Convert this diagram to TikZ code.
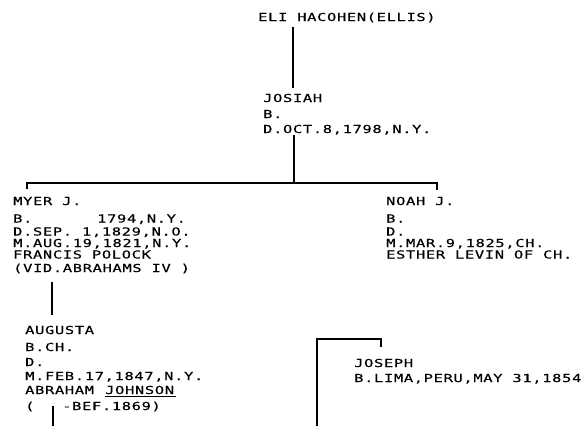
\documentclass[tikz,border=0pt]{standalone}
\usepackage{fontspec}
\newfontfamily\typ[FakeStretch=1.4,LetterSpace=6,FakeBold=0.3]{DejaVu Sans Mono}
\begin{document}
\begin{tikzpicture}[x=1pt,y=-1pt,
  txt/.style={anchor=base west,inner sep=0pt,font=\typ\fontsize{11}{12}\selectfont},
  ln/.style={line width=1.1pt,line cap=butt}]
\useasboundingbox[fill=white] (0,0) rectangle (583,426);
% Eli
\node[txt] (eli) at (258,21) {ELI HACOHEN(ELLIS)};
% Josiah
\node[txt] (josA) at (263,102) {JOSIAH};
\node[txt] (josB) at (263,118) {B.};
\node[txt] (josC) at (263,133) {D.OCT.8,1798,N.Y.};
% Myer
\node[txt] (myA) at (13,205) {MYER J.};
\node[txt] (myB) at (13,222.5) {B.};
\node[txt] (myB2) at (97,222.5) {1794,N.Y.};
\node[txt] (myC) at (13,235.5) {D.SEP. 1,1829,N.O.};
\node[txt] (myD) at (13,247) {M.AUG.19,1821,N.Y.};
\node[txt] (myE) at (13,258.5) {FRANCIS POLOCK};
\node[txt] (myF) at (13,272) {(VID.ABRAHAMS IV )};
% Noah
\node[txt] (noA) at (386,205) {NOAH J.};
\node[txt] (noB) at (386,222.5) {B.};
\node[txt] (noC) at (386,235.5) {D.};
\node[txt] (noD) at (386,247) {M.MAR.9,1825,CH.};
\node[txt] (noE) at (386,258.5) {ESTHER LEVIN OF CH.};
% Augusta
\node[txt] (auA) at (25,334) {AUGUSTA};
\node[txt] (auB) at (25,351) {B.CH.};
\node[txt] (auC) at (25,366) {D.};
\node[txt] (auD) at (25,380) {M.FEB.17,1847,N.Y.};
\node[txt] (auE) at (25,394) {ABRAHAM};
\node[txt] (auE2) at (105,394) {JOHNSON};
\node[txt] (auF) at (25,410) {(};
\node[txt] (auF2) at (62,410) {-BEF.1869)};
% Joseph
\node[txt] (joA) at (354,367) {JOSEPH};
\node[txt] (joB) at (354,382) {B.LIMA,PERU,MAY 31,1854};
% connector points
\coordinate (e1) at (293,27);
\coordinate (e2) at (293,88);
\coordinate (j1) at (294,135);
\coordinate (bar) at (294,183);
\coordinate (barL) at (27,183);
\coordinate (barR) at (437,183);
\coordinate (tickL) at (27,189);
\coordinate (tickR) at (437,190);
\coordinate (m1) at (52,282);
\coordinate (m2) at (52,315);
\coordinate (a1) at (53,406);
\coordinate (a2) at (53,426);
\coordinate (jb) at (317,426);
\coordinate (jt) at (317,339);
\coordinate (jr) at (381,339);
\coordinate (jtick) at (381,347);
\coordinate (uL) at (105,396.5);
\coordinate (uR) at (176,396.5);
% connectors
\draw[ln] (e1) -- (e2);
\draw[ln] (j1) -- (bar);
\draw[ln] (tickL) -- (barL) -- (barR) -- (tickR);
\draw[ln] (m1) -- (m2);
\draw[ln] (a1) -- (a2);
\draw[ln] (jb) -- (jt) -- (jr) -- (jtick);
\draw[line width=0.9pt] (uL) -- (uR);
\end{tikzpicture}
\end{document}
